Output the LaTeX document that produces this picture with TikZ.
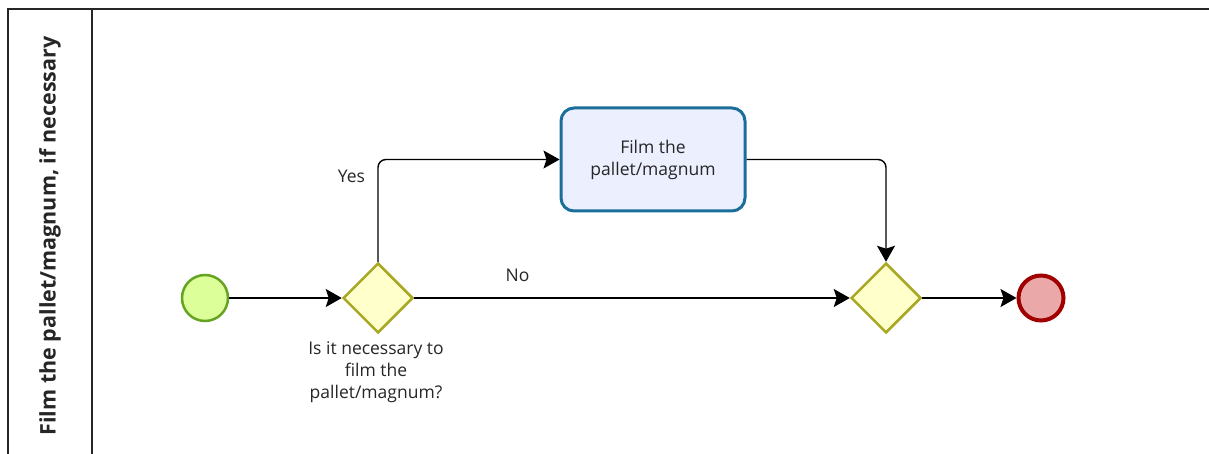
\documentclass[tikz,border=0pt]{standalone}
\usepackage{fontspec}
\setmainfont{Open Sans}
\usetikzlibrary{arrows.meta,shapes.geometric}
\definecolor{startfill}{HTML}{DDFF99}
\definecolor{startline}{HTML}{66A322}
\definecolor{endfill}{HTML}{EBA8A8}
\definecolor{endline}{HTML}{A00000}
\definecolor{gwfill}{HTML}{FFFFCC}
\definecolor{gwline}{HTML}{A8A824}
\definecolor{taskfill}{HTML}{ECEFFE}
\definecolor{taskline}{HTML}{1A6E99}
\tikzset{
  every node/.style={font=\fontsize{17.5}{22}\selectfont, text=black!85},
  startev/.style={circle, draw=startline, fill=startfill, line width=2.5pt, minimum size=46pt, inner sep=0pt},
  endev/.style={circle, draw=endline, fill=endfill, line width=4pt, minimum size=45pt, inner sep=0pt},
  gw/.style={diamond, draw=gwline, fill=gwfill, line width=2.5pt, minimum width=70pt, minimum height=70pt, inner sep=0pt},
  task/.style={rectangle, rounded corners=13pt, draw=taskline, fill=taskfill, line width=3pt, minimum width=184pt, minimum height=103pt, align=center},
  flow/.style={draw=black, line width=1.4pt, -{Stealth[length=16pt,width=18pt,inset=3pt]}, rounded corners=8pt},
  lbl/.style={align=center}
}
\begin{document}
\begin{tikzpicture}[x=1pt,y=-1pt]
\useasboundingbox (0,0) rectangle (1209,454);
% pool
\draw[line width=1.5pt, black!85] (1209,9) -- (8,9) -- (8,454);
\draw[line width=1.5pt, black!85] (92,9) -- (92,454);
\node[rotate=90, font=\bfseries\fontsize{21.5}{26}\selectfont] (lane) at (50,236) {Film the pallet/magnum, if necessary};
% nodes
\node[startev] (s) at (205,298) {};
\node[gw] (g1) at (378,298) {};
\node[task] (t) at (653,159.5) {Film the\\pallet/magnum};
\node[gw] (g2) at (886,298) {};
\node[endev] (e) at (1041,298) {};
\node[lbl] (q) at (376,372) {Is it necessary to\\film the\\pallet/magnum?};
% flows
\draw[flow] (s) -- (g1);
\draw[flow] (g1.north) |- (t.west) node[pos=0.42, left=9pt] (yes) {Yes};
\draw[flow] (g1.east) -- (g2.west) node[pos=0.237, above=12pt] (no) {No};
\draw[flow] (t.east) -| (g2.north);
\draw[flow] (g2.east) -- (e.west);
\end{tikzpicture}
\end{document}
